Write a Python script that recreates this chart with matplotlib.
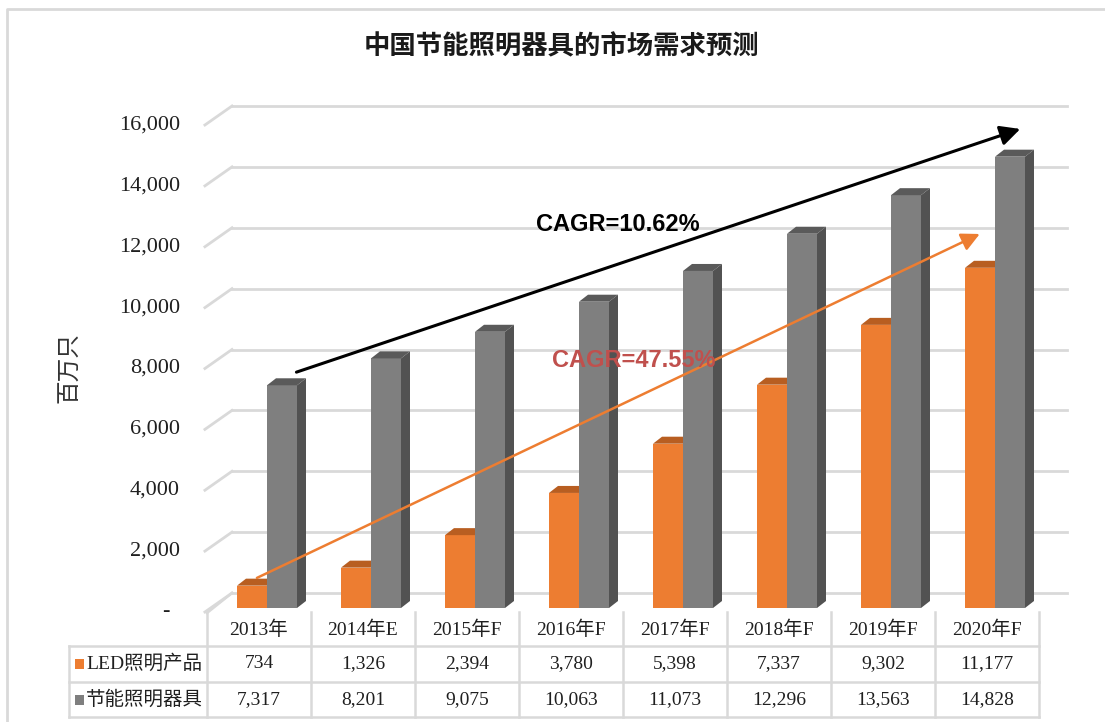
import matplotlib
matplotlib.use("Agg")
import matplotlib.pyplot as plt
from matplotlib.patches import Polygon, Rectangle
from matplotlib.lines import Line2D

# ---------------- data ----------------
categories = ["2013年", "2014年E", "2015年F", "2016年F", "2017年F", "2018年F", "2019年F", "2020年F"]
series_names = ["LED照明产品", "节能照明器具"]
led_values = [734, 1326, 2394, 3780, 5398, 7337, 9302, 11177]
cfl_values = [7317, 8201, 9075, 10063, 11073, 12296, 13563, 14828]
y_ticks = [0, 2000, 4000, 6000, 8000, 10000, 12000, 14000, 16000]
title = "中国节能照明器具的市场需求预测"
y_label = "百万只"
cagr_total = "CAGR=10.62%"
cagr_led = "CAGR=47.55%"

# ---------------- style ----------------
ORANGE = "#ED7D31"
ORANGE_TOP = "#B85E21"
GRAY = "#7F7F7F"
GRAY_TOP = "#5A5A5A"
GRAY_SIDE = "#525252"
GRID = "#D9D9D9"
TXT = "#1F1F1F"
SERIF = ["Liberation Serif", "Noto Sans CJK SC"]
CJK = ["Noto Sans CJK SC", "DejaVu Sans"]

W, H = 1105, 722
fig = plt.figure(figsize=(W / 100, H / 100), dpi=100)

# overlay axes in pixel coordinates for frame / title / table
ov = fig.add_axes([0, 0, 1, 1])
ov.set_xlim(0, W)
ov.set_ylim(H, 0)
ov.axis("off")

# main plotting axes (front plane of 3D chart)
x_left, x_right = 207, 1039
y_zero, y_top = 612, 125
ax = fig.add_axes([x_left / W, (H - y_zero) / H, (x_right - x_left) / W, (y_zero - y_top) / H])
ax.set_xlim(-0.5, len(categories) - 0.5)
ax.set_ylim(0, 16000)
ax.axis("off")
ax.patch.set_alpha(0)

px_per_unit_y = (y_zero - y_top) / 16000.0
px_per_unit_x = (x_right - x_left) / len(categories)

# wall depth offsets (data units)
wall_dx = 25 / px_per_unit_x
wall_dy = 19 / px_per_unit_y
back_right = 7.77

# gridlines on back wall + left wall diagonals
for t in y_ticks:
    ax.add_line(Line2D([-0.5 + wall_dx, back_right], [t + wall_dy, t + wall_dy],
                       color=GRID, lw=2, zorder=1, clip_on=False))
    ax.add_line(Line2D([-0.52, -0.5 + wall_dx], [t, t + wall_dy],
                       color=GRID, lw=2, zorder=1, clip_on=False))
    if t == 0:
        ax.text(-0.5 - 41 / px_per_unit_x, t, "-", ha="center", va="center",
                fontsize=16, family=SERIF, color=TXT, clip_on=False)
    else:
        ax.text(-0.5 - 27 / px_per_unit_x, t, f"{t:,}", ha="right", va="center",
                fontsize=16, family=SERIF, color=TXT, clip_on=False)

# 3D bars
bw = 30 / px_per_unit_x
base = 4 / px_per_unit_y
bdx = 9 / px_per_unit_x
bdy = 7 / px_per_unit_y
off_led = -22 / px_per_unit_x
xs = list(range(len(categories)))

ax.bar([x + off_led for x in xs], led_values, width=bw, bottom=base, align="edge",
       color=ORANGE, zorder=3.0, linewidth=0)
ax.bar([x + off_led + bw for x in xs], cfl_values, width=bw, bottom=base, align="edge",
       color=GRAY, zorder=3.2, linewidth=0)

for x, lv, cv in zip(xs, led_values, cfl_values):
    x0 = x + off_led
    top = base + lv
    ax.add_patch(Polygon([(x0, top), (x0 + bw, top), (x0 + bw + bdx, top + bdy), (x0 + bdx, top + bdy)],
                         closed=True, color=ORANGE_TOP, lw=0, zorder=3.1))
    g0 = x0 + bw
    g1 = g0 + bw
    gt = base + cv
    ax.add_patch(Polygon([(g0, gt), (g1, gt), (g1 + bdx, gt + bdy), (g0 + bdx, gt + bdy)],
                         closed=True, color=GRAY_TOP, lw=0, zorder=3.3))
    ax.add_patch(Polygon([(g1, base), (g1 + bdx, base + bdy), (g1 + bdx, gt + bdy), (g1, gt)],
                         closed=True, color=GRAY_SIDE, lw=0, zorder=3.3))

# trend arrows
ax.annotate("", xy=(7.32, 15870), xytext=(0.36, 7880),
            arrowprops=dict(arrowstyle="-|>,head_length=1.2,head_width=0.6", color="black",
                            lw=2.2, shrinkA=0, shrinkB=0), zorder=5, annotation_clip=False)
ax.annotate("", xy=(6.93, 12420), xytext=(-0.02, 1120),
            arrowprops=dict(arrowstyle="-|>,head_length=1.1,head_width=0.55", color=ORANGE,
                            lw=1.8, shrinkA=0, shrinkB=0), zorder=5, annotation_clip=False)

ax.text(3.45, 12740, cagr_total, ha="center", va="center", fontsize=17, fontweight="bold",
        family="Liberation Sans", color="black", zorder=6)
ax.text(3.6, 8250, cagr_led, ha="center", va="center", fontsize=17, fontweight="bold",
        family="Liberation Sans", color="#C0504D", zorder=6)

# ---------------- overlay: frame, title, axis label, table ----------------
ov.add_line(Line2D([7, 7, W + 5], [H + 5, 9, 9], color=GRID, lw=2))

ov.text(561, 47, title, ha="center", va="center", fontsize=19, fontweight="bold",
        family=CJK, color="#1A1A1A")
ov.text(70, 368, y_label, ha="center", va="center", fontsize=17, rotation=90,
        family=CJK, color="#333333")

# table grid
lab_left = 69
row_top, row_h1, row_h2, row_bot = 612, 646, 682, 717
for yy in (row_h1, row_h2, row_bot):
    ov.add_line(Line2D([lab_left, x_right], [yy, yy], color=GRID, lw=1.8))
ov.add_line(Line2D([lab_left, lab_left], [row_h1, row_bot], color=GRID, lw=1.8))
for k in range(len(categories) + 1):
    xx = x_left + k * px_per_unit_x
    ov.add_line(Line2D([xx, xx], [row_top, row_bot], color=GRID, lw=1.8))
# floor left edge
ov.add_line(Line2D([x_left, x_left + 25], [row_top + 1, row_top - 19], color=GRID, lw=1.8))

for i, cat in enumerate(categories):
    cx = x_left + (i + 0.5) * px_per_unit_x
    ov.text(cx, (row_top + row_h1) / 2 + 1, cat, ha="center", va="center", fontsize=14,
            family=SERIF, color=TXT)
    ov.text(cx, (row_h1 + row_h2) / 2, f"{led_values[i]:,}", ha="center", va="center",
            fontsize=14, family=SERIF, color=TXT)
    ov.text(cx, (row_h2 + row_bot) / 2, f"{cfl_values[i]:,}", ha="center", va="center",
            fontsize=14, family=SERIF, color=TXT)

for name, col, (r0, r1) in zip(series_names, (ORANGE, GRAY), ((row_h1, row_h2), (row_h2, row_bot))):
    cy = (r0 + r1) / 2
    ov.add_patch(Rectangle((75, cy - 5), 9, 10, color=col, lw=0))
    ov.text(86, cy, name, ha="left", va="center", fontsize=14, family=SERIF, color=TXT)

fig.savefig("out.png", dpi=100)
